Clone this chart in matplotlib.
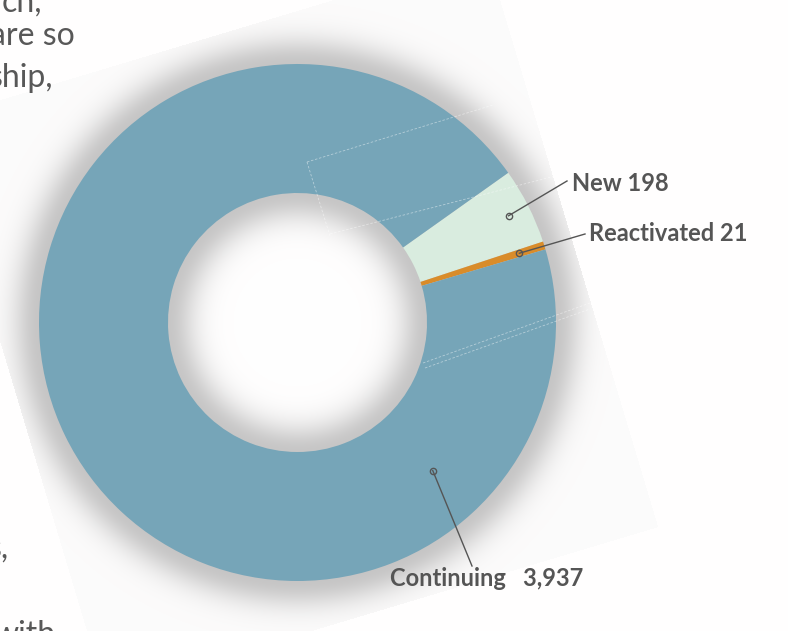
import numpy as np
import matplotlib
matplotlib.use("Agg")
import matplotlib.pyplot as plt

# ---- data ----
categories = ["New", "Reactivated", "Continuing"]
values = [198, 21, 3937]
colors = ["#d9ecdf", "#d98c2a", "#76a5b8"]
label_texts = ["New 198", "Reactivated 21", "Continuing   3,937"]

W, H = 788, 631
plt.rcParams['font.family'] = ['Lato', 'DejaVu Sans']

fig = plt.figure(figsize=W / 100 * np.array([1, H / W]), dpi=100)
ax = fig.add_axes([0, 0, 1, 1])

cx, cy = 297.5, 322.5          # pixel coords (y down)
R_out, R_in = 258.5, 129.5
start = 35.4

def Y(y):
    return H - y

# ---- background panel with shadow (decoration) ----
yy, xx = np.mgrid[0:H, 0:W] + 0.5
d = np.hypot(xx - cx, yy - cy)
nvec = (0.9578, -0.2873)
tvec = (0.2873, 0.9578)
u = nvec[0] * xx + nvec[1] * yy
v = tvec[0] * xx + tvec[1] * yy
inside = (u > -98) & (u < 479) & (v > 96) & (v < 694)
img = np.ones((H, W))
base = 0.988
glow = base - 0.21 * np.exp(-((np.clip(d - R_out, 0, None)) / 26.0) ** 2)
img[inside] = glow[inside]
hole = d < R_in
inner = 1.0 - 0.22 * np.exp(-((R_in - d) / 28.0) ** 2)
img[hole] = inner[hole]
rgb = np.dstack([img, img * 0.997, img * 0.997])
ax.imshow(rgb, extent=(0, W, 0, H), origin='upper', zorder=0, interpolation='bilinear')

# ---- donut ----
wedges, _ = ax.pie(values, colors=colors, startangle=start, counterclock=False,
                   radius=R_out, center=(cx, Y(cy)),
                   wedgeprops=dict(width=R_out - R_in, linewidth=0))
for w in wedges:
    w.set_zorder(2)

# faint dashed guide lines (decoration)
for (x0, y0, x1, y1) in [(307, 162, 493, 105), (307, 162, 330, 236),
                         (330, 234, 590, 167), (423, 363, 590, 303),
                         (425, 368, 590, 309)]:
    ax.plot([x0, x1], [Y(y0), Y(y1)], color='white', lw=0.6, ls=(0, (3, 2)),
            alpha=0.45, zorder=3)

# ---- labels with leader lines ----
total = sum(values)
cum = np.cumsum([0] + values)
mid_angles = [start - 360 * (cum[i] + values[i] / 2) / total for i in range(len(values))]
anchor_angle = [mid_angles[0], mid_angles[1], -47.6]
anchor_r = [236.5, 232.4, 200.6]
line_end = [(567, 181), (585, 234), (472, 566)]
text_pos = [(572, 191), (589, 241), (390, 586)]
lab_col = "#555555"
for i in range(len(values)):
    a = np.deg2rad(anchor_angle[i])
    px = cx + anchor_r[i] * np.cos(a)
    py = cy - anchor_r[i] * np.sin(a)
    ax.plot([px, line_end[i][0]], [Y(py), Y(line_end[i][1])], color=lab_col, lw=1.0, zorder=4)
    ax.plot([px], [Y(py)], marker='o', ms=4.5, mfc='none', mec=lab_col, mew=1.0, zorder=5)
    ax.text(text_pos[i][0], Y(text_pos[i][1]), label_texts[i], fontsize=17,
            fontweight='bold', color=lab_col, ha='left', va='baseline', zorder=6)

# ---- surrounding body text fragments ----
frag = [("ch,", 42, 12), ("are so", 75, 45), ("ship,", 53, 87), ("s,", 9, 558), ("with", 56, 644)]
for t, x, y in frag:
    ax.text(x, Y(y), t, fontsize=23, color="#585858", ha='right', va='baseline', zorder=6)

ax.set_xlim(0, W)
ax.set_ylim(0, H)
ax.set_aspect('auto')
ax.axis('off')
fig.savefig("out.png", dpi=100)
